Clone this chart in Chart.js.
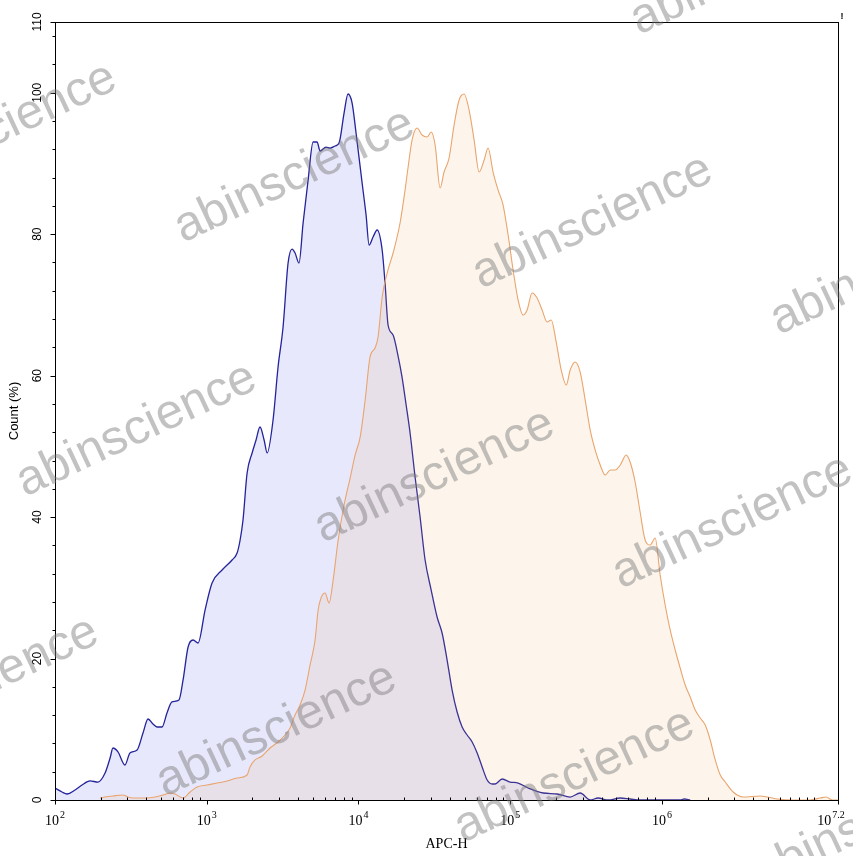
<!DOCTYPE html>
<html>
<head>
<meta charset="utf-8">
<script src="https://cdn.jsdelivr.net/npm/chart.js@4.4.1/dist/chart.umd.min.js"></script>
<style>
  html, body { margin: 0; padding: 0; background: #ffffff; }
  canvas { display: block; }
</style>
</head>
<body>
<canvas id="c" width="853" height="856"></canvas>
<script>
// ---- data (x as log10 of APC-H, y as Count %) ----
const blueExp = [2.000,2.046,2.079,2.132,2.178,2.231,2.283,2.330,2.363,2.382,2.415,2.461,2.494,2.541,2.580,2.613,2.646,2.672,2.705,2.738,2.771,2.817,2.844,2.877,2.910,2.943,2.989,3.035,3.101,3.167,3.200,3.220,3.239,3.266,3.299,3.325,3.351,3.378,3.398,3.437,3.470,3.503,3.536,3.562,3.582,3.608,3.635,3.668,3.701,3.727,3.747,3.786,3.813,3.846,3.872,3.905,3.931,3.958,3.984,4.024,4.050,4.070,4.096,4.123,4.156,4.175,4.195,4.228,4.261,4.287,4.314,4.340,4.373,4.406,4.439,4.479,4.518,4.551,4.584,4.617,4.650,4.683,4.716,4.749,4.782,4.815,4.848,4.881,4.900,4.947,4.999,5.052,5.118,5.217,5.309,5.395,5.461,5.527,5.579,5.645,5.725,5.790,5.856,6.120,6.146,6.186];
const blueCount = [1.70,1.13,0.85,1.41,2.12,2.69,2.54,3.82,5.94,7.35,6.79,4.95,6.65,7.07,9.47,11.45,10.75,10.32,10.32,12.30,13.86,14.14,16.97,21.63,22.62,22.20,26.86,30.68,32.52,33.93,34.92,36.76,39.59,46.23,49.06,50.90,52.74,50.90,49.06,53.73,61.22,66.87,75.92,77.90,77.34,75.92,81.58,87.66,93.03,93.03,91.76,92.32,92.18,92.47,92.89,97.13,99.82,98.54,94.30,87.23,82.71,78.47,79.60,80.59,77.76,73.09,67.16,65.74,62.77,59.80,55.85,51.89,45.67,40.01,33.93,29.69,25.87,23.61,19.79,15.55,12.44,10.32,9.19,8.20,6.65,4.67,2.83,2.26,2.26,2.97,2.54,2.40,1.70,0.99,0.85,0.42,0.99,0,0.28,0,0.28,0.14,0,0,0.14,0];

const orangeExp = [2.297,2.330,2.382,2.448,2.481,2.514,2.606,2.659,2.712,2.758,2.791,2.844,2.890,2.936,3.002,3.068,3.134,3.200,3.266,3.285,3.318,3.365,3.417,3.470,3.516,3.549,3.582,3.615,3.648,3.681,3.714,3.734,3.753,3.780,3.806,3.833,3.866,3.905,3.945,3.978,4.011,4.044,4.076,4.109,4.129,4.156,4.189,4.228,4.274,4.307,4.327,4.353,4.386,4.419,4.452,4.479,4.505,4.538,4.564,4.597,4.630,4.663,4.696,4.729,4.762,4.795,4.828,4.854,4.887,4.920,4.953,4.986,5.019,5.052,5.085,5.111,5.144,5.177,5.210,5.243,5.270,5.303,5.336,5.369,5.395,5.428,5.461,5.494,5.527,5.560,5.593,5.626,5.659,5.692,5.725,5.764,5.790,5.823,5.856,5.889,5.922,5.955,5.988,6.021,6.054,6.087,6.120,6.153,6.186,6.219,6.252,6.285,6.318,6.351,6.384,6.417,6.469,6.535,6.647,6.759,6.865,6.977,7.043,7.082,7.122,7.160];
const orangeCount = [0.28,0.42,0.57,0.71,0.42,0.28,0.28,0.42,0.71,0.99,0.85,0.28,1.13,1.84,2.12,2.40,2.69,3.11,3.53,4.67,5.66,6.22,7.35,8.20,9.19,10.18,12.02,13.43,15.55,19.09,22.62,26.86,28.56,29.27,27.85,31.10,36.76,41.71,45.52,48.78,51.32,56.55,62.63,63.91,65.46,71.11,74.51,77.34,81.58,86.24,89.50,93.31,95.01,94.02,93.74,94.44,92.61,86.53,88.79,90.77,95.43,98.97,99.82,97.55,93.31,88.79,90.49,92.18,88.79,86.24,84.12,79.88,74.93,70.69,68.57,69.28,71.68,70.97,69.28,67.58,67.86,64.75,60.79,58.67,60.79,61.93,60.51,56.55,52.31,49.48,47.36,45.95,46.66,46.66,47.36,48.78,47.79,44.96,40.72,36.76,36.05,37.04,31.81,27.57,24.04,21.21,18.66,16.26,14.56,12.72,11.59,10.60,8.48,5.66,3.53,2.54,1.13,0.42,0.57,0.14,0,0,0.28,0.42,0,0];

// axis ticks
const xMajorExps = [2, 3, 4, 5, 6];
const xMajorLabels = ['2', '3', '4', '5', '6'];
const xEndExp = 7.16;
const xEndLabel = '7.2';
const yMajorTicks = [0, 20, 40, 60, 80, 100, 110];
const yMinorStep = 4;
const xTitle = 'APC-H';
const yTitle = 'Count (%)';
const watermarkText = 'abinscience';

const toPoints = (ex, ys) => ex.map((e, i) => ({ x: Math.pow(10, e), y: ys[i] }));

const decorPlugin = {
  id: 'decor',
  afterDraw(chart) {
    const ctx = chart.ctx;
    const xs = chart.scales.x, ys = chart.scales.y;
    const a = chart.chartArea;
    ctx.save();
    // frame
    ctx.strokeStyle = '#000';
    ctx.lineWidth = 1;
    ctx.strokeRect(Math.round(a.left) + 0.5, Math.round(a.top) + 0.5,
                   Math.round(a.right - a.left), Math.round(a.bottom - a.top));
    const yb = Math.round(a.bottom) + 0.5;
    const xl = Math.round(a.left) + 0.5;
    ctx.beginPath();
    // x minor ticks (inside)
    for (let n = 2; n <= 7; n++) {
      for (let k = 2; k <= 10; k++) {
        const v = k * Math.pow(10, n);
        if (v >= Math.pow(10, xEndExp)) continue;
        if (k === 10 && n < 6) continue;
        const px = Math.round(xs.getPixelForValue(v)) + 0.5;
        ctx.moveTo(px, yb); ctx.lineTo(px, yb - 3);
      }
    }
    // x major ticks (outside)
    xMajorExps.concat([xEndExp]).forEach(e => {
      const px = Math.round(xs.getPixelForValue(Math.pow(10, e))) + 0.5;
      ctx.moveTo(px, yb); ctx.lineTo(px, yb + 4);
    });
    // y ticks
    for (let v = 0; v <= 110; v += yMinorStep) {
      const py = Math.round(ys.getPixelForValue(v)) + 0.5;
      ctx.moveTo(xl, py); ctx.lineTo(xl - 3, py);
    }
    yMajorTicks.forEach(v => {
      const py = Math.round(ys.getPixelForValue(v)) + 0.5;
      ctx.moveTo(xl, py); ctx.lineTo(xl - 5, py);
    });
    ctx.stroke();

    // x labels with superscripts
    ctx.fillStyle = '#000';
    ctx.textBaseline = 'alphabetic';
    const drawPow = (cx, exp) => {
      ctx.font = '14px "Liberation Serif", "Times New Roman", serif';
      const wb = ctx.measureText('10').width;
      ctx.font = '10px "Liberation Serif", "Times New Roman", serif';
      const we = ctx.measureText(exp).width;
      const x0 = cx - (wb + we + 1) / 2;
      ctx.font = '14px "Liberation Serif", "Times New Roman", serif';
      ctx.textAlign = 'left';
      ctx.fillText('10', x0, 825);
      ctx.font = '10px "Liberation Serif", "Times New Roman", serif';
      ctx.fillText(exp, x0 + wb + 1, 818);
    };
    xMajorExps.forEach((e, i) => drawPow(xs.getPixelForValue(Math.pow(10, e)), xMajorLabels[i]));
    drawPow(xs.getPixelForValue(Math.pow(10, xEndExp)) - 7, xEndLabel);

    // x title
    ctx.font = '14px "Liberation Serif", "Times New Roman", serif';
    ctx.textAlign = 'center';
    ctx.fillText(xTitle, (a.left + a.right) / 2, 848);

    // y labels (rotated)
    ctx.font = '12px "Liberation Sans", Arial, sans-serif';
    yMajorTicks.forEach(v => {
      const py = ys.getPixelForValue(v);
      ctx.save();
      ctx.translate(38, py);
      ctx.rotate(-Math.PI / 2);
      ctx.textAlign = 'center';
      ctx.textBaseline = 'middle';
      ctx.fillText(String(v), 0, 0);
      ctx.restore();
    });
    // y title
    ctx.save();
    ctx.translate(14, (a.top + a.bottom) / 2);
    ctx.rotate(-Math.PI / 2);
    ctx.font = '13px "Liberation Sans", Arial, sans-serif';
    ctx.textAlign = 'center';
    ctx.textBaseline = 'middle';
    ctx.fillText(yTitle, 0, 0);
    ctx.restore();

    // small mark at top right
    ctx.font = 'bold 9px "Liberation Sans", Arial, sans-serif';
    ctx.textAlign = 'center';
    ctx.textBaseline = 'alphabetic';
    ctx.fillText('!', 842, 19);

    // watermarks
    ctx.font = '49px "Liberation Sans", Arial, sans-serif';
    ctx.fillStyle = 'rgba(120,120,120,0.45)';
    ctx.textAlign = 'left';
    ctx.textBaseline = 'alphabetic';
    const u = [298, 46], w = [140, 300], base = [183, 243];
    for (let i = -2; i <= 3; i++) {
      for (let j = -2; j <= 3; j++) {
        const ox = base[0] + i * u[0] + j * w[0];
        const oy = base[1] + i * u[1] + j * w[1];
        if (ox < -300 || ox > 853 || oy < -10 || oy > 1000) continue;
        ctx.save();
        ctx.translate(ox, oy);
        ctx.rotate(-25 * Math.PI / 180);
        ctx.fillText(watermarkText, 0, 0);
        ctx.restore();
      }
    }
    ctx.restore();
  }
};

new Chart(document.getElementById('c'), {
  type: 'line',
  data: {
    datasets: [
      {
        label: 'isotype',
        data: toPoints(blueExp, blueCount),
        borderColor: 'rgb(35,35,155)',
        backgroundColor: 'rgba(110,110,235,0.16)',
        borderWidth: 1.3,
        fill: 'origin',
        pointRadius: 0,
        tension: 0.3,
        cubicInterpolationMode: 'monotone',
        order: 2
      },
      {
        label: 'sample',
        data: toPoints(orangeExp, orangeCount),
        borderColor: 'rgb(232,165,110)',
        backgroundColor: 'rgba(240,170,100,0.12)',
        borderWidth: 1.1,
        fill: 'origin',
        pointRadius: 0,
        tension: 0.3,
        cubicInterpolationMode: 'monotone',
        order: 1
      }
    ]
  },
  options: {
    responsive: false,
    animation: false,
    devicePixelRatio: 1,
    layout: { padding: { left: 55, top: 22, right: 15, bottom: 56 } },
    plugins: { legend: { display: false }, tooltip: { enabled: false } },
    scales: {
      x: {
        type: 'logarithmic',
        min: 100,
        max: Math.pow(10, xEndExp),
        ticks: { display: false },
        grid: { display: false, drawTicks: false },
        border: { display: false },
        title: { display: false }
      },
      y: {
        type: 'linear',
        min: 0,
        max: 110,
        ticks: { display: false },
        grid: { display: false, drawTicks: false },
        border: { display: false },
        title: { display: false }
      }
    }
  },
  plugins: [decorPlugin]
});
</script>
</body>
</html>
